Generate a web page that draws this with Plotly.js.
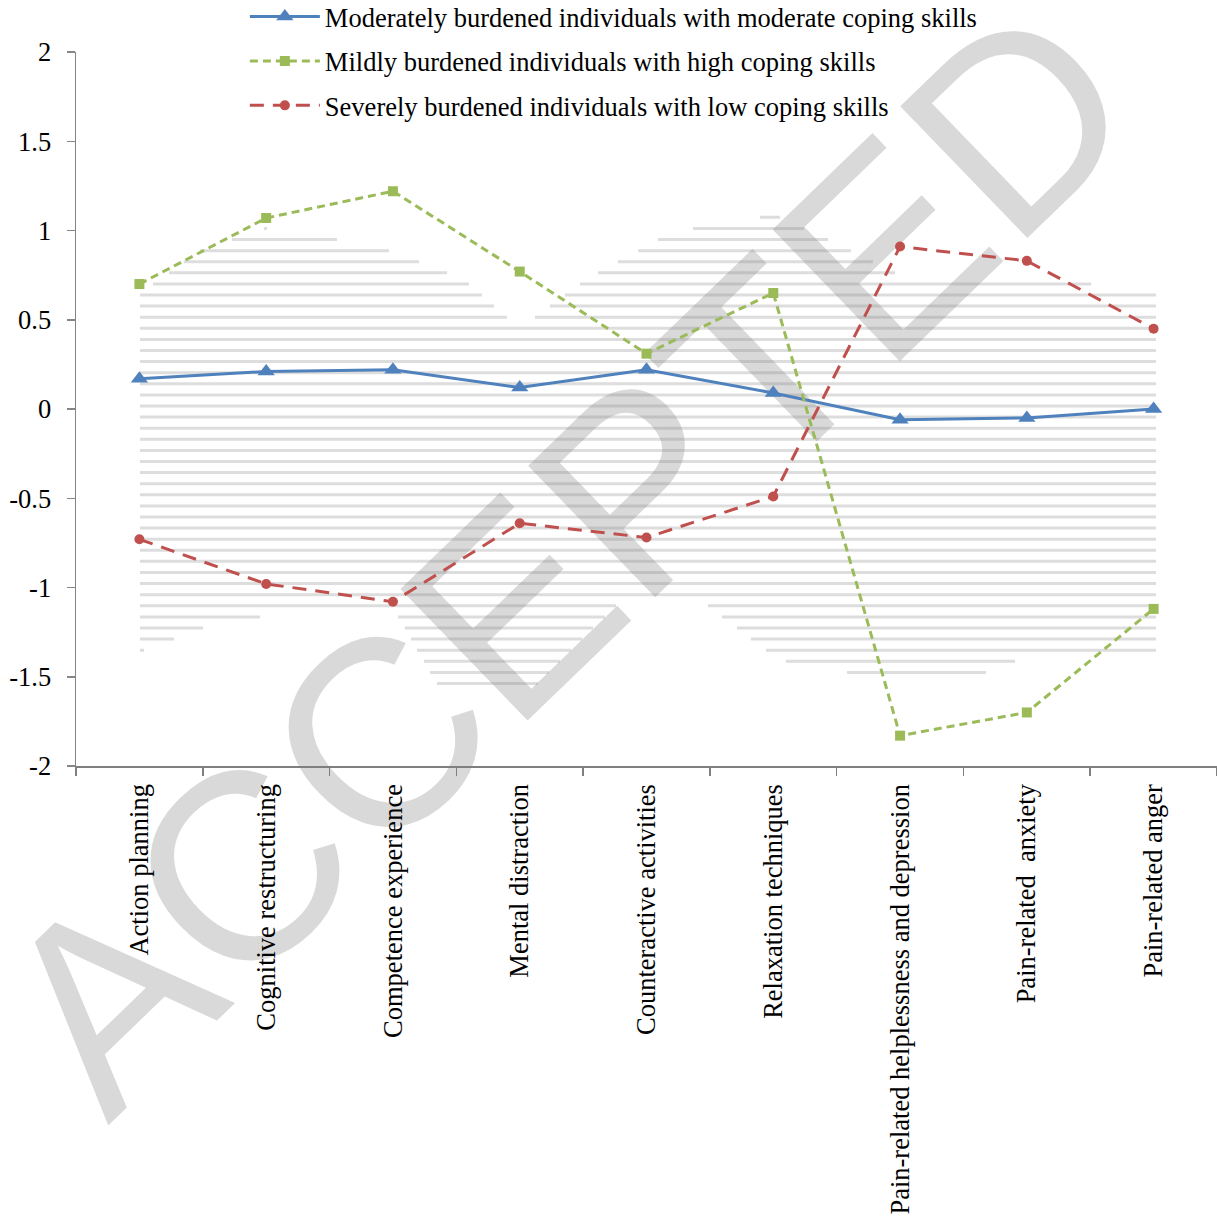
<!DOCTYPE html>
<html>
<head>
<meta charset="utf-8">
<script src="https://cdn.plot.ly/plotly-3.0.1.min.js"></script>
<style>html,body{margin:0;padding:0;background:#fff;}#chart{width:1217px;height:1224px;}</style>
</head>
<body>
<div id="chart"></div>
<script>
const categories = [
  "Action planning",
  "Cognitive restructuring",
  "Competence experience",
  "Mental distraction",
  "Counteractive activities",
  "Relaxation techniques",
  "Pain-related helplessness and depression",
  "Pain-related  anxiety",
  "Pain-related anger"
];
const seriesNames = [
  "Moderately burdened individuals with moderate coping skills",
  "Mildly burdened individuals with high coping skills",
  "Severely burdened individuals with low coping skills"
];
const moderateValues = [0.17, 0.21, 0.22, 0.12, 0.22, 0.09, -0.06, -0.05, 0.00];
const mildValues = [0.70, 1.07, 1.22, 0.77, 0.31, 0.65, -1.83, -1.70, -1.12];
const severeValues = [-0.73, -0.98, -1.08, -0.64, -0.72, -0.49, 0.91, 0.83, 0.45];
const yTickVals = [-2, -1.5, -1, -0.5, 0, 0.5, 1, 1.5, 2];
const yTickText = ["-2", "-1.5", "-1", "-0.5", "0", "0.5", "1", "1.5", "2"];

// decorative background hatch (publisher watermark), outline in page pixels
const hatchTop = [[140,293],[200,250],[265,228],[330,238],[396,252],[465,280],[520,328],[585,280],[660,238],[720,220],[778,216],[840,245],[900,275],[1020,275],[1100,285],[1156,293]];
const hatchBottom = [[140,652],[220,622],[300,612],[396,614],[440,690],[530,692],[620,602],[700,600],[778,660],[850,673],[985,673],[1040,652],[1156,652]];

const serif = "'Liberation Serif', 'Times New Roman', serif";
const fs = 26.5;

const M = {l: 76, t: 52, w: 1141, h: 714};
function px2paperX(px) { return (px - M.l) / M.w; }
function px2paperY(py) { return (M.t + M.h - py) / M.h; }
function interp(poly, x) {
  for (let i = 0; i < poly.length - 1; i++) {
    const a = poly[i], b = poly[i + 1];
    if (x >= a[0] && x <= b[0]) return a[1] + (b[1] - a[1]) * (x - a[0]) / (b[0] - a[0]);
  }
  return NaN;
}
function hatchPath() {
  let d = "";
  for (let y = 295 - 11.1 * 8; y <= 700; y += 11.1) {
    let start = null;
    for (let x = 140; x <= 1156; x += 1) {
      const inside = y >= interp(hatchTop, x) && y <= interp(hatchBottom, x);
      if (inside && start === null) start = x;
      if ((!inside || x === 1156) && start !== null) {
        const end = inside ? x : x - 1;
        if (end > start) d += "M" + px2paperX(start).toFixed(4) + "," + px2paperY(y).toFixed(4) +
                              "L" + px2paperX(end).toFixed(4) + "," + px2paperY(y).toFixed(4);
        start = null;
      }
    }
  }
  return d;
}

const traces = [
  {
    x: categories, y: moderateValues, name: seriesNames[0], type: "scatter", mode: "lines+markers",
    legendgroup: "a",
    line: {color: "#4F81BD", width: 3},
    marker: {symbol: "triangle-up", size: 15, color: "#4F81BD"}
  },
  {
    x: categories, y: mildValues, name: seriesNames[1], type: "scatter", mode: "lines+markers",
    legendgroup: "b",
    line: {color: "#9BBB59", width: 3, dash: "8px,5px"},
    marker: {symbol: "square", size: 10, color: "#9BBB59"}
  },
  {
    x: categories, y: severeValues, name: seriesNames[2], type: "scatter", mode: "lines+markers",
    legendgroup: "c",
    line: {color: "#C0504D", width: 3, dash: "14px,9px"},
    marker: {symbol: "circle", size: 10, color: "#C0504D"}
  }
];

const layout = {
  width: 1217, height: 1224,
  margin: {l: 76, r: 0, t: 52, b: 458, pad: 0, autoexpand: false},
  paper_bgcolor: "#ffffff",
  plot_bgcolor: "rgba(0,0,0,0)",
  font: {family: serif, size: fs, color: "#000000"},
  showlegend: true,
  legend: {
    x: 0.148, y: 1.083, xanchor: "left", yanchor: "top",
    orientation: "v", traceorder: "grouped", tracegroupgap: 7,
    itemwidth: 70, bgcolor: "rgba(0,0,0,0)",
    font: {family: serif, size: fs, color: "#000000"}
  },
  xaxis: {
    type: "category",
    range: [-0.5, 8.5],
    showgrid: false, zeroline: false,
    showline: true, linecolor: "#7f7f7f", linewidth: 1.5,
    ticks: "outside", tickson: "boundaries", ticklen: 8, tickwidth: 1.5, tickcolor: "#7f7f7f",
    tickangle: -90, ticklabelstandoff: 6,
    tickfont: {family: serif, size: fs, color: "#000000"}
  },
  yaxis: {
    range: [-2, 2],
    tickvals: yTickVals, ticktext: yTickText,
    showgrid: false, zeroline: false,
    showline: true, linecolor: "#868686", linewidth: 1.5,
    ticks: "outside", ticklen: 8, tickwidth: 1.5, tickcolor: "#868686",
    ticklabelstandoff: 10,
    tickfont: {family: serif, size: fs, color: "#000000"}
  },
  shapes: [
    {
      type: "path", xref: "paper", yref: "paper", layer: "below",
      path: hatchPath(),
      line: {width: 3, color: "#dddddd"}
    },
    {
      type: "rect", xref: "paper", yref: "paper",
      x0: 0.403, x1: 0.423, y0: 0.314, y1: 0.324,
      line: {width: 0}, fillcolor: "rgba(0,0,0,0)", layer: "below",
      label: {
        text: "ACCEPTED", textangle: -44, textposition: "middle center",
        font: {family: "'Liberation Sans', Arial, sans-serif", size: 266, color: "rgba(128,128,128,0.3)"}
      }
    }
  ]
};

Plotly.newPlot("chart", traces, layout, {displayModeBar: false, staticPlot: true});
</script>
</body>
</html>
